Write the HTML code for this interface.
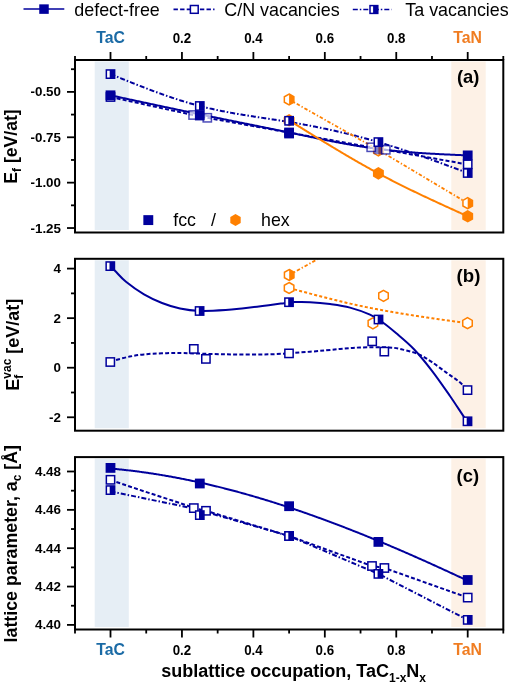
<!DOCTYPE html>
<html><head><meta charset="utf-8"><style>
html,body{margin:0;padding:0;background:#fff;width:511px;height:685px;overflow:hidden;}
body{position:relative;font-family:"Liberation Sans",sans-serif;}
</style></head><body>
<svg width="511" height="685" viewBox="0 0 511 685" style="position:absolute;left:0;top:0;will-change:transform" font-family="Liberation Sans, sans-serif">
<defs>
<clipPath id="ca"><rect x="76" y="61" width="426.3" height="170.5"/></clipPath>
<clipPath id="cb"><rect x="76" y="259.8" width="426.3" height="169.9"/></clipPath>
<clipPath id="cc"><rect x="76" y="458.1" width="426.3" height="170.4"/></clipPath>
</defs>
<rect x="94.7" y="61.5" width="34.1" height="168.5" fill="#e6eef5"/>
<rect x="451.3" y="61.5" width="34.4" height="168.5" fill="#fdf1e6"/>
<rect x="94.7" y="260.3" width="34.1" height="167.9" fill="#e6eef5"/>
<rect x="451.3" y="260.3" width="34.4" height="167.9" fill="#fdf1e6"/>
<rect x="94.7" y="458.6" width="34.1" height="168.4" fill="#e6eef5"/>
<rect x="451.3" y="458.6" width="34.4" height="168.4" fill="#fdf1e6"/>
<polyline points="110.5,97 193.1,115 207.3,117.8 289.1,132.6 371.2,147.3 385.8,149.8 467.7,164.5" fill="none" stroke="#00009c" stroke-width="2" stroke-linejoin="round" stroke-dasharray="4 2.2" clip-path="url(#ca)"/>
<polyline points="110.5,95.3 111.5,95.52 112.5,95.73 113.5,95.95 114.5,96.16 115.5,96.38 116.5,96.6 117.5,96.81 118.5,97.03 119.51,97.24 120.51,97.46 121.51,97.67 122.51,97.89 123.51,98.11 124.51,98.32 125.51,98.54 126.51,98.75 127.51,98.97 128.51,99.18 129.51,99.4 130.51,99.62 131.51,99.83 132.51,100.05 133.51,100.26 134.51,100.48 135.51,100.69 136.51,100.91 137.52,101.12 138.52,101.34 139.52,101.55 140.52,101.77 141.52,101.98 142.52,102.2 143.52,102.41 144.52,102.63 145.52,102.84 146.52,103.06 147.52,103.27 148.52,103.48 149.52,103.7 150.52,103.91 151.52,104.13 152.52,104.34 153.52,104.56 154.52,104.77 155.53,104.98 156.53,105.2 157.53,105.41 158.53,105.62 159.53,105.84 160.53,106.05 161.53,106.26 162.53,106.48 163.53,106.69 164.53,106.9 165.53,107.11 166.53,107.33 167.53,107.54 168.53,107.75 169.53,107.96 170.53,108.17 171.53,108.39 172.53,108.6 173.54,108.81 174.54,109.02 175.54,109.23 176.54,109.44 177.54,109.65 178.54,109.86 179.54,110.07 180.54,110.28 181.54,110.49 182.54,110.7 183.54,110.91 184.54,111.12 185.54,111.33 186.54,111.54 187.54,111.75 188.54,111.96 189.54,112.17 190.54,112.38 191.55,112.59 192.55,112.8 193.55,113 194.55,113.21 195.55,113.42 196.55,113.63 197.55,113.83 198.55,114.04 199.55,114.25 200.55,114.46 201.55,114.66 202.55,114.87 203.55,115.07 204.55,115.28 205.55,115.49 206.55,115.69 207.55,115.9 208.55,116.1 209.56,116.31 210.56,116.51 211.56,116.72 212.56,116.92 213.56,117.13 214.56,117.33 215.56,117.53 216.56,117.74 217.56,117.94 218.56,118.15 219.56,118.35 220.56,118.55 221.56,118.76 222.56,118.96 223.56,119.16 224.56,119.37 225.56,119.57 226.56,119.77 227.57,119.98 228.57,120.18 229.57,120.38 230.57,120.58 231.57,120.79 232.57,120.99 233.57,121.19 234.57,121.39 235.57,121.6 236.57,121.8 237.57,122 238.57,122.2 239.57,122.41 240.57,122.61 241.57,122.81 242.57,123.01 243.57,123.22 244.58,123.42 245.58,123.62 246.58,123.82 247.58,124.02 248.58,124.23 249.58,124.43 250.58,124.63 251.58,124.83 252.58,125.04 253.58,125.24 254.58,125.44 255.58,125.65 256.58,125.85 257.58,126.05 258.58,126.25 259.58,126.46 260.58,126.66 261.58,126.86 262.59,127.07 263.59,127.27 264.59,127.47 265.59,127.68 266.59,127.88 267.59,128.08 268.59,128.29 269.59,128.49 270.59,128.7 271.59,128.9 272.59,129.1 273.59,129.31 274.59,129.51 275.59,129.72 276.59,129.92 277.59,130.13 278.59,130.33 279.59,130.54 280.6,130.74 281.6,130.95 282.6,131.16 283.6,131.36 284.6,131.57 285.6,131.78 286.6,131.98 287.6,132.19 288.6,132.4 289.6,132.6 290.6,132.81 291.6,133.02 292.6,133.23 293.6,133.44 294.6,133.64 295.6,133.85 296.6,134.06 297.6,134.27 298.61,134.48 299.61,134.69 300.61,134.89 301.61,135.1 302.61,135.31 303.61,135.52 304.61,135.73 305.61,135.93 306.61,136.14 307.61,136.35 308.61,136.56 309.61,136.76 310.61,136.97 311.61,137.18 312.61,137.38 313.61,137.59 314.61,137.79 315.61,138 316.62,138.2 317.62,138.41 318.62,138.61 319.62,138.81 320.62,139.02 321.62,139.22 322.62,139.42 323.62,139.62 324.62,139.82 325.62,140.02 326.62,140.22 327.62,140.42 328.62,140.61 329.62,140.81 330.62,141.01 331.62,141.2 332.62,141.4 333.62,141.59 334.63,141.78 335.63,141.97 336.63,142.17 337.63,142.36 338.63,142.54 339.63,142.73 340.63,142.92 341.63,143.11 342.63,143.29 343.63,143.47 344.63,143.66 345.63,143.84 346.63,144.02 347.63,144.2 348.63,144.38 349.63,144.55 350.63,144.73 351.64,144.9 352.64,145.07 353.64,145.25 354.64,145.42 355.64,145.59 356.64,145.75 357.64,145.92 358.64,146.08 359.64,146.25 360.64,146.41 361.64,146.57 362.64,146.73 363.64,146.88 364.64,147.04 365.64,147.19 366.64,147.34 367.64,147.5 368.64,147.64 369.65,147.79 370.65,147.94 371.65,148.08 372.65,148.22 373.65,148.36 374.65,148.5 375.65,148.64 376.65,148.77 377.65,148.9 378.65,149.03 379.65,149.16 380.65,149.29 381.65,149.41 382.65,149.53 383.65,149.66 384.65,149.77 385.65,149.89 386.65,150.01 387.66,150.12 388.66,150.23 389.66,150.34 390.66,150.45 391.66,150.56 392.66,150.66 393.66,150.77 394.66,150.87 395.66,150.97 396.66,151.07 397.66,151.16 398.66,151.26 399.66,151.35 400.66,151.45 401.66,151.54 402.66,151.63 403.66,151.72 404.66,151.8 405.67,151.89 406.67,151.97 407.67,152.05 408.67,152.14 409.67,152.22 410.67,152.3 411.67,152.37 412.67,152.45 413.67,152.52 414.67,152.6 415.67,152.67 416.67,152.74 417.67,152.81 418.67,152.88 419.67,152.95 420.67,153.02 421.67,153.08 422.67,153.15 423.68,153.21 424.68,153.28 425.68,153.34 426.68,153.4 427.68,153.46 428.68,153.52 429.68,153.58 430.68,153.64 431.68,153.7 432.68,153.75 433.68,153.81 434.68,153.86 435.68,153.92 436.68,153.97 437.68,154.02 438.68,154.08 439.68,154.13 440.68,154.18 441.69,154.23 442.69,154.28 443.69,154.33 444.69,154.38 445.69,154.42 446.69,154.47 447.69,154.52 448.69,154.57 449.69,154.61 450.69,154.66 451.69,154.7 452.69,154.75 453.69,154.79 454.69,154.84 455.69,154.88 456.69,154.93 457.69,154.97 458.69,155.01 459.7,155.06 460.7,155.1 461.7,155.14 462.7,155.19 463.7,155.23 464.7,155.27 465.7,155.31 466.7,155.36 467.7,155.4" fill="none" stroke="#00009c" stroke-width="2" stroke-linejoin="round" clip-path="url(#ca)"/>
<polyline points="110.5,74.1 111.5,74.51 112.5,74.91 113.5,75.32 114.5,75.72 115.5,76.13 116.5,76.54 117.5,76.94 118.5,77.35 119.51,77.75 120.51,78.16 121.51,78.56 122.51,78.96 123.51,79.37 124.51,79.77 125.51,80.17 126.51,80.58 127.51,80.98 128.51,81.38 129.51,81.78 130.51,82.18 131.51,82.57 132.51,82.97 133.51,83.37 134.51,83.77 135.51,84.16 136.51,84.56 137.52,84.95 138.52,85.34 139.52,85.73 140.52,86.12 141.52,86.51 142.52,86.9 143.52,87.29 144.52,87.67 145.52,88.06 146.52,88.44 147.52,88.82 148.52,89.2 149.52,89.58 150.52,89.96 151.52,90.33 152.52,90.71 153.52,91.08 154.52,91.45 155.53,91.82 156.53,92.19 157.53,92.56 158.53,92.92 159.53,93.29 160.53,93.65 161.53,94.01 162.53,94.36 163.53,94.72 164.53,95.07 165.53,95.42 166.53,95.77 167.53,96.12 168.53,96.47 169.53,96.81 170.53,97.15 171.53,97.49 172.53,97.83 173.54,98.16 174.54,98.49 175.54,98.82 176.54,99.15 177.54,99.48 178.54,99.8 179.54,100.12 180.54,100.44 181.54,100.75 182.54,101.06 183.54,101.37 184.54,101.68 185.54,101.98 186.54,102.28 187.54,102.58 188.54,102.88 189.54,103.17 190.54,103.46 191.55,103.75 192.55,104.03 193.55,104.31 194.55,104.59 195.55,104.87 196.55,105.14 197.55,105.41 198.55,105.67 199.55,105.93 200.55,106.19 201.55,106.45 202.55,106.7 203.55,106.95 204.55,107.2 205.55,107.44 206.55,107.68 207.55,107.92 208.55,108.15 209.56,108.38 210.56,108.61 211.56,108.84 212.56,109.06 213.56,109.28 214.56,109.5 215.56,109.72 216.56,109.93 217.56,110.14 218.56,110.35 219.56,110.55 220.56,110.76 221.56,110.96 222.56,111.16 223.56,111.35 224.56,111.55 225.56,111.74 226.56,111.93 227.57,112.12 228.57,112.31 229.57,112.49 230.57,112.68 231.57,112.86 232.57,113.04 233.57,113.22 234.57,113.39 235.57,113.57 236.57,113.74 237.57,113.91 238.57,114.08 239.57,114.25 240.57,114.42 241.57,114.59 242.57,114.75 243.57,114.92 244.58,115.08 245.58,115.24 246.58,115.4 247.58,115.56 248.58,115.72 249.58,115.88 250.58,116.04 251.58,116.19 252.58,116.35 253.58,116.51 254.58,116.66 255.58,116.82 256.58,116.97 257.58,117.12 258.58,117.27 259.58,117.43 260.58,117.58 261.58,117.73 262.59,117.88 263.59,118.04 264.59,118.19 265.59,118.34 266.59,118.49 267.59,118.64 268.59,118.79 269.59,118.94 270.59,119.1 271.59,119.25 272.59,119.4 273.59,119.55 274.59,119.71 275.59,119.86 276.59,120.01 277.59,120.17 278.59,120.32 279.59,120.48 280.6,120.64 281.6,120.79 282.6,120.95 283.6,121.11 284.6,121.27 285.6,121.43 286.6,121.59 287.6,121.75 288.6,121.92 289.6,122.08 290.6,122.25 291.6,122.42 292.6,122.58 293.6,122.75 294.6,122.92 295.6,123.1 296.6,123.27 297.6,123.44 298.61,123.62 299.61,123.8 300.61,123.97 301.61,124.15 302.61,124.33 303.61,124.52 304.61,124.7 305.61,124.88 306.61,125.07 307.61,125.25 308.61,125.44 309.61,125.63 310.61,125.82 311.61,126.01 312.61,126.21 313.61,126.4 314.61,126.6 315.61,126.8 316.62,126.99 317.62,127.19 318.62,127.39 319.62,127.6 320.62,127.8 321.62,128.01 322.62,128.21 323.62,128.42 324.62,128.63 325.62,128.84 326.62,129.05 327.62,129.27 328.62,129.48 329.62,129.7 330.62,129.92 331.62,130.13 332.62,130.36 333.62,130.58 334.63,130.8 335.63,131.03 336.63,131.25 337.63,131.48 338.63,131.71 339.63,131.94 340.63,132.17 341.63,132.41 342.63,132.64 343.63,132.88 344.63,133.12 345.63,133.36 346.63,133.6 347.63,133.84 348.63,134.09 349.63,134.33 350.63,134.58 351.64,134.83 352.64,135.08 353.64,135.33 354.64,135.59 355.64,135.84 356.64,136.1 357.64,136.36 358.64,136.62 359.64,136.88 360.64,137.14 361.64,137.41 362.64,137.68 363.64,137.95 364.64,138.22 365.64,138.49 366.64,138.76 367.64,139.04 368.64,139.31 369.65,139.59 370.65,139.87 371.65,140.15 372.65,140.44 373.65,140.72 374.65,141.01 375.65,141.3 376.65,141.59 377.65,141.88 378.65,142.17 379.65,142.47 380.65,142.77 381.65,143.07 382.65,143.37 383.65,143.67 384.65,143.97 385.65,144.28 386.65,144.59 387.66,144.89 388.66,145.2 389.66,145.52 390.66,145.83 391.66,146.15 392.66,146.46 393.66,146.78 394.66,147.1 395.66,147.42 396.66,147.74 397.66,148.07 398.66,148.39 399.66,148.72 400.66,149.04 401.66,149.37 402.66,149.7 403.66,150.04 404.66,150.37 405.67,150.7 406.67,151.04 407.67,151.37 408.67,151.71 409.67,152.05 410.67,152.39 411.67,152.73 412.67,153.07 413.67,153.42 414.67,153.76 415.67,154.11 416.67,154.45 417.67,154.8 418.67,155.15 419.67,155.5 420.67,155.85 421.67,156.2 422.67,156.55 423.68,156.9 424.68,157.26 425.68,157.61 426.68,157.97 427.68,158.32 428.68,158.68 429.68,159.04 430.68,159.39 431.68,159.75 432.68,160.11 433.68,160.47 434.68,160.84 435.68,161.2 436.68,161.56 437.68,161.92 438.68,162.29 439.68,162.65 440.68,163.02 441.69,163.38 442.69,163.75 443.69,164.11 444.69,164.48 445.69,164.85 446.69,165.21 447.69,165.58 448.69,165.95 449.69,166.32 450.69,166.69 451.69,167.06 452.69,167.43 453.69,167.8 454.69,168.17 455.69,168.54 456.69,168.91 457.69,169.28 458.69,169.65 459.7,170.02 460.7,170.4 461.7,170.77 462.7,171.14 463.7,171.51 464.7,171.88 465.7,172.26 466.7,172.63 467.7,173" fill="none" stroke="#00009c" stroke-width="2" stroke-linejoin="round" stroke-dasharray="5 2 1.5 2" clip-path="url(#ca)"/>
<polyline points="289.1,120.3 290.1,120.93 291.11,121.55 292.11,122.18 293.11,122.8 294.12,123.43 295.12,124.05 296.12,124.68 297.13,125.3 298.13,125.92 299.13,126.55 300.14,127.17 301.14,127.8 302.14,128.42 303.15,129.04 304.15,129.67 305.15,130.29 306.16,130.91 307.16,131.53 308.16,132.16 309.17,132.78 310.17,133.4 311.17,134.02 312.18,134.64 313.18,135.26 314.18,135.88 315.19,136.49 316.19,137.11 317.19,137.73 318.2,138.34 319.2,138.96 320.2,139.58 321.21,140.19 322.21,140.8 323.21,141.42 324.22,142.03 325.22,142.64 326.22,143.25 327.23,143.86 328.23,144.47 329.23,145.08 330.24,145.69 331.24,146.29 332.24,146.9 333.25,147.5 334.25,148.11 335.26,148.71 336.26,149.31 337.26,149.91 338.27,150.51 339.27,151.11 340.27,151.71 341.28,152.31 342.28,152.9 343.28,153.5 344.29,154.09 345.29,154.68 346.29,155.27 347.3,155.86 348.3,156.45 349.3,157.04 350.31,157.62 351.31,158.21 352.31,158.79 353.32,159.37 354.32,159.95 355.32,160.53 356.33,161.11 357.33,161.68 358.33,162.26 359.34,162.83 360.34,163.4 361.34,163.97 362.35,164.54 363.35,165.11 364.35,165.67 365.36,166.23 366.36,166.8 367.36,167.36 368.37,167.91 369.37,168.47 370.37,169.03 371.38,169.58 372.38,170.13 373.38,170.68 374.39,171.23 375.39,171.77 376.39,172.32 377.4,172.86 378.4,173.4 379.4,173.94 380.41,174.47 381.41,175.01 382.41,175.54 383.42,176.07 384.42,176.6 385.42,177.13 386.43,177.65 387.43,178.18 388.43,178.7 389.44,179.22 390.44,179.74 391.44,180.26 392.45,180.77 393.45,181.28 394.45,181.8 395.46,182.31 396.46,182.82 397.46,183.32 398.47,183.83 399.47,184.33 400.47,184.84 401.48,185.34 402.48,185.84 403.48,186.34 404.49,186.83 405.49,187.33 406.49,187.82 407.5,188.32 408.5,188.81 409.5,189.3 410.51,189.79 411.51,190.28 412.51,190.76 413.52,191.25 414.52,191.73 415.52,192.22 416.53,192.7 417.53,193.18 418.53,193.66 419.54,194.14 420.54,194.62 421.54,195.09 422.55,195.57 423.55,196.04 424.56,196.52 425.56,196.99 426.56,197.46 427.57,197.93 428.57,198.4 429.57,198.87 430.58,199.34 431.58,199.81 432.58,200.28 433.59,200.74 434.59,201.21 435.59,201.67 436.6,202.14 437.6,202.6 438.6,203.06 439.61,203.53 440.61,203.99 441.61,204.45 442.62,204.91 443.62,205.37 444.62,205.83 445.63,206.29 446.63,206.75 447.63,207.2 448.64,207.66 449.64,208.12 450.64,208.57 451.65,209.03 452.65,209.49 453.65,209.94 454.66,210.4 455.66,210.85 456.66,211.31 457.67,211.76 458.67,212.22 459.67,212.67 460.68,213.13 461.68,213.58 462.68,214.03 463.69,214.49 464.69,214.94 465.69,215.39 466.7,215.85 467.7,216.3" fill="none" stroke="#ff8000" stroke-width="2" stroke-linejoin="round" clip-path="url(#ca)"/>
<polyline points="289.1,99.5 378.4,150 467.7,203.2" fill="none" stroke="#ff8000" stroke-width="1.8" stroke-linejoin="round" stroke-dasharray="3.5 2 1.3 2" clip-path="url(#ca)"/>
<rect x="106.35" y="92.85" width="8.3" height="8.3" fill="#fff" stroke="#00009c" stroke-width="1.5"/>
<rect x="105.6" y="90.4" width="9.8" height="9.8" fill="#00009c"/>
<rect x="106.35" y="69.95" width="8.3" height="8.3" fill="#fff" stroke="#00009c" stroke-width="1.5"/>
<rect x="109.7" y="69.95" width="4.95" height="8.3" fill="#00009c"/>
<g opacity="0.7">
<rect x="188.95" y="110.85" width="8.3" height="8.3" fill="#fff" stroke="#00009c" stroke-width="1.5"/>
<rect x="203.15" y="113.65" width="8.3" height="8.3" fill="#fff" stroke="#00009c" stroke-width="1.5"/>
</g>
<rect x="194.9" y="110.6" width="9.8" height="9.8" fill="#00009c"/>
<rect x="195.65" y="101.85" width="8.3" height="8.3" fill="#fff" stroke="#00009c" stroke-width="1.5"/>
<rect x="199" y="101.85" width="4.95" height="8.3" fill="#00009c"/>
<polygon points="289.1,114 294.56,117.15 294.56,123.45 289.1,126.6 283.64,123.45 283.64,117.15" fill="#ff8000"/>
<rect x="284.95" y="129.35" width="8.3" height="8.3" fill="#fff" stroke="#00009c" stroke-width="1.5"/>
<rect x="284.2" y="127.6" width="9.8" height="9.8" fill="#00009c"/>
<rect x="284.95" y="116.65" width="8.3" height="8.3" fill="#fff" stroke="#00009c" stroke-width="1.5"/>
<rect x="288.3" y="116.65" width="4.95" height="8.3" fill="#00009c"/>
<polygon points="289.1,94 293.86,96.75 293.86,102.25 289.1,105 284.34,102.25 284.34,96.75" fill="#fff" stroke="#ff8000" stroke-width="1.5" stroke-linejoin="miter"/>
<polygon points="289.1,94 293.86,96.75 293.86,102.25 289.1,105" fill="#ff8000"/>
<polygon points="378.4,167.1 383.86,170.25 383.86,176.55 378.4,179.7 372.94,176.55 372.94,170.25" fill="#ff8000"/>
<polygon points="378.4,144.8 383.16,147.55 383.16,153.05 378.4,155.8 373.64,153.05 373.64,147.55" fill="#fff" stroke="#ff8000" stroke-width="1.5" stroke-linejoin="miter"/>
<polygon points="378.4,144.8 383.16,147.55 383.16,153.05 378.4,155.8" fill="#ff8000"/>
<g opacity="0.5">
<rect x="373.5" y="144.4" width="9.8" height="9.8" fill="#00009c"/>
</g>
<g opacity="0.7">
<rect x="367.05" y="143.15" width="8.3" height="8.3" fill="#fff" stroke="#00009c" stroke-width="1.5"/>
<rect x="381.65" y="145.65" width="8.3" height="8.3" fill="#fff" stroke="#00009c" stroke-width="1.5"/>
</g>
<rect x="374.25" y="137.95" width="8.3" height="8.3" fill="#fff" stroke="#00009c" stroke-width="1.5"/>
<rect x="377.6" y="137.95" width="4.95" height="8.3" fill="#00009c"/>
<rect x="463.55" y="168.85" width="8.3" height="8.3" fill="#fff" stroke="#00009c" stroke-width="1.5"/>
<rect x="466.9" y="168.85" width="4.95" height="8.3" fill="#00009c"/>
<rect x="463.55" y="160.15" width="8.3" height="8.3" fill="#fff" stroke="#00009c" stroke-width="1.5"/>
<rect x="462.8" y="150.5" width="9.8" height="9.8" fill="#00009c"/>
<polygon points="467.7,210 473.16,213.15 473.16,219.45 467.7,222.6 462.24,219.45 462.24,213.15" fill="#ff8000"/>
<polygon points="467.7,197.7 472.46,200.45 472.46,205.95 467.7,208.7 462.94,205.95 462.94,200.45" fill="#fff" stroke="#ff8000" stroke-width="1.5" stroke-linejoin="miter"/>
<polygon points="467.7,197.7 472.46,200.45 472.46,205.95 467.7,208.7" fill="#ff8000"/>
<rect x="143.35" y="215.15" width="9.9" height="9.9" fill="#00009c"/>
<text x="173.2" y="225.7" font-size="17.8" font-weight="normal" fill="#000" text-anchor="start">fcc</text>
<text x="211" y="225.7" font-size="17.8" font-weight="normal" fill="#000" text-anchor="start">/</text>
<polygon points="235.5,214.1 240.7,217.1 240.7,223.1 235.5,226.1 230.3,223.1 230.3,217.1" fill="#ff8000"/>
<text x="261" y="225.7" font-size="17.8" font-weight="normal" fill="#000" text-anchor="start">hex</text>
<path d="M110.3,362 C111.93,361.4 111.98,361.1 115.2,360.2 C118.42,359.3 124.8,357.57 129.6,356.6 C134.4,355.63 138.6,354.95 144,354.4 C149.4,353.85 155.4,353.52 162,353.3 C168.6,353.08 173.1,352.93 183.6,353.1 C194.1,353.27 210.6,354.1 225,354.3 C239.4,354.5 255.83,354.73 270,354.3 C284.17,353.87 298.33,352.58 310,351.7 C321.67,350.82 331.67,349.7 340,349 C348.33,348.3 351.83,347.77 360,347.5 C368.17,347.23 381.5,346.97 389,347.4 C396.5,347.83 399.93,348.9 405,350.1 C410.07,351.3 414.9,352.58 419.4,354.6 C423.9,356.62 427.5,359.2 432,362.2 C436.5,365.2 441.9,369.37 446.4,372.6 C450.9,375.83 455.48,378.68 459,381.6 C462.52,384.52 464.67,387.27 467.5,390.1" fill="none" stroke="#00009c" stroke-width="2" stroke-linejoin="round" stroke-dasharray="4 2.2" clip-path="url(#cb)"/>
<path d="M110.3,266.1 C111.93,267.73 112.58,268.38 115.2,271 C117.82,273.62 121.2,277.9 126,281.8 C130.8,285.7 138,290.87 144,294.4 C150,297.93 156,300.65 162,303 C168,305.35 173.73,307.18 180,308.5 C186.27,309.82 192,310.63 199.6,310.9 C207.2,311.17 218.2,310.55 225.6,310.1 C233,309.65 237.87,308.88 244,308.2 C250.13,307.52 256.27,306.77 262.4,306 C268.53,305.23 275.37,304.25 280.8,303.6 C286.23,302.95 290.13,302.33 295,302.1 C299.87,301.87 304.17,301.87 310,302.2 C315.83,302.53 323.33,303.2 330,304.1 C336.67,305 343.33,305.83 350,307.6 C356.67,309.37 364.58,312.27 370,314.7 C375.42,317.13 378.17,319.15 382.5,322.2 C386.83,325.25 390.75,328.5 396,333 C401.25,337.5 408,342.9 414,349.2 C420,355.5 426,363 432,370.8 C438,378.6 444.6,388.2 450,396 C455.4,403.8 461.48,413.38 464.4,417.6 C467.32,421.82 466.47,420.07 467.5,421.3" fill="none" stroke="#00009c" stroke-width="2" stroke-linejoin="round" clip-path="url(#cb)"/>
<polyline points="289.1,288 290.1,288.27 291.1,288.54 292.11,288.81 293.11,289.08 294.11,289.35 295.11,289.62 296.12,289.89 297.12,290.16 298.12,290.43 299.12,290.7 300.12,290.97 301.13,291.24 302.13,291.5 303.13,291.77 304.13,292.04 305.14,292.31 306.14,292.57 307.14,292.84 308.14,293.11 309.14,293.37 310.15,293.64 311.15,293.9 312.15,294.17 313.15,294.43 314.16,294.7 315.16,294.96 316.16,295.22 317.16,295.48 318.17,295.74 319.17,296.01 320.17,296.26 321.17,296.52 322.17,296.78 323.18,297.04 324.18,297.3 325.18,297.55 326.18,297.81 327.19,298.06 328.19,298.32 329.19,298.57 330.19,298.82 331.19,299.07 332.2,299.32 333.2,299.57 334.2,299.82 335.2,300.07 336.21,300.31 337.21,300.56 338.21,300.8 339.21,301.05 340.21,301.29 341.22,301.53 342.22,301.77 343.22,302.01 344.22,302.24 345.23,302.48 346.23,302.71 347.23,302.95 348.23,303.18 349.23,303.41 350.24,303.64 351.24,303.87 352.24,304.09 353.24,304.32 354.25,304.54 355.25,304.77 356.25,304.99 357.25,305.21 358.26,305.42 359.26,305.64 360.26,305.86 361.26,306.07 362.26,306.28 363.27,306.49 364.27,306.7 365.27,306.91 366.27,307.11 367.28,307.32 368.28,307.52 369.28,307.72 370.28,307.92 371.28,308.12 372.29,308.32 373.29,308.51 374.29,308.71 375.29,308.9 376.3,309.09 377.3,309.28 378.3,309.47 379.3,309.66 380.3,309.85 381.31,310.03 382.31,310.22 383.31,310.4 384.31,310.58 385.32,310.77 386.32,310.95 387.32,311.12 388.32,311.3 389.32,311.48 390.33,311.65 391.33,311.83 392.33,312 393.33,312.18 394.34,312.35 395.34,312.52 396.34,312.69 397.34,312.86 398.34,313.02 399.35,313.19 400.35,313.36 401.35,313.52 402.35,313.69 403.36,313.85 404.36,314.01 405.36,314.18 406.36,314.34 407.37,314.5 408.37,314.66 409.37,314.82 410.37,314.98 411.37,315.13 412.38,315.29 413.38,315.45 414.38,315.6 415.38,315.76 416.39,315.91 417.39,316.06 418.39,316.22 419.39,316.37 420.39,316.52 421.4,316.67 422.4,316.82 423.4,316.97 424.4,317.12 425.41,317.27 426.41,317.42 427.41,317.57 428.41,317.72 429.41,317.86 430.42,318.01 431.42,318.15 432.42,318.3 433.42,318.44 434.43,318.59 435.43,318.73 436.43,318.88 437.43,319.02 438.43,319.16 439.44,319.31 440.44,319.45 441.44,319.59 442.44,319.73 443.45,319.87 444.45,320.01 445.45,320.15 446.45,320.29 447.46,320.43 448.46,320.57 449.46,320.71 450.46,320.85 451.46,320.99 452.47,321.13 453.47,321.27 454.47,321.41 455.47,321.55 456.48,321.69 457.48,321.82 458.48,321.96 459.48,322.1 460.48,322.24 461.49,322.37 462.49,322.51 463.49,322.65 464.49,322.79 465.5,322.93 466.5,323.06 467.5,323.2" fill="none" stroke="#ff8000" stroke-width="2" stroke-linejoin="round" stroke-dasharray="3 2.2" clip-path="url(#cb)"/>
<polyline points="289.2,275 321.5,257" fill="none" stroke="#ff8000" stroke-width="1.8" stroke-linejoin="round" stroke-dasharray="3.5 2 1.3 2" clip-path="url(#cb)"/>
<rect x="106.15" y="261.95" width="8.3" height="8.3" fill="#fff" stroke="#00009c" stroke-width="1.5"/>
<rect x="109.5" y="261.95" width="4.95" height="8.3" fill="#00009c"/>
<rect x="106.15" y="357.85" width="8.3" height="8.3" fill="#fff" stroke="#00009c" stroke-width="1.5"/>
<rect x="195.45" y="306.85" width="8.3" height="8.3" fill="#fff" stroke="#00009c" stroke-width="1.5"/>
<rect x="198.8" y="306.85" width="4.95" height="8.3" fill="#00009c"/>
<rect x="189.65" y="344.75" width="8.3" height="8.3" fill="#fff" stroke="#00009c" stroke-width="1.5"/>
<rect x="201.75" y="354.75" width="8.3" height="8.3" fill="#fff" stroke="#00009c" stroke-width="1.5"/>
<polygon points="289.2,269.5 293.96,272.25 293.96,277.75 289.2,280.5 284.44,277.75 284.44,272.25" fill="#fff" stroke="#ff8000" stroke-width="1.5" stroke-linejoin="miter"/>
<polygon points="289.2,269.5 293.96,272.25 293.96,277.75 289.2,280.5" fill="#ff8000"/>
<polygon points="289.1,282.5 293.86,285.25 293.86,290.75 289.1,293.5 284.34,290.75 284.34,285.25" fill="#fff" stroke="#ff8000" stroke-width="1.5" stroke-linejoin="miter"/>
<rect x="284.85" y="298.05" width="8.3" height="8.3" fill="#fff" stroke="#00009c" stroke-width="1.5"/>
<rect x="288.2" y="298.05" width="4.95" height="8.3" fill="#00009c"/>
<rect x="284.85" y="349.25" width="8.3" height="8.3" fill="#fff" stroke="#00009c" stroke-width="1.5"/>
<polygon points="383.5,290.3 388.26,293.05 388.26,298.55 383.5,301.3 378.74,298.55 378.74,293.05" fill="#fff" stroke="#ff8000" stroke-width="1.5" stroke-linejoin="miter"/>
<polygon points="372.9,317.8 377.66,320.55 377.66,326.05 372.9,328.8 368.14,326.05 368.14,320.55" fill="#fff" stroke="#ff8000" stroke-width="1.5" stroke-linejoin="miter"/>
<rect x="374.35" y="315.35" width="8.3" height="8.3" fill="#fff" stroke="#00009c" stroke-width="1.5"/>
<rect x="377.7" y="315.35" width="4.95" height="8.3" fill="#00009c"/>
<rect x="368.05" y="337.15" width="8.3" height="8.3" fill="#fff" stroke="#00009c" stroke-width="1.5"/>
<rect x="380.15" y="347.45" width="8.3" height="8.3" fill="#fff" stroke="#00009c" stroke-width="1.5"/>
<polygon points="467.5,317.7 472.26,320.45 472.26,325.95 467.5,328.7 462.74,325.95 462.74,320.45" fill="#fff" stroke="#ff8000" stroke-width="1.5" stroke-linejoin="miter"/>
<rect x="463.35" y="385.95" width="8.3" height="8.3" fill="#fff" stroke="#00009c" stroke-width="1.5"/>
<rect x="463.35" y="417.15" width="8.3" height="8.3" fill="#fff" stroke="#00009c" stroke-width="1.5"/>
<rect x="466.7" y="417.15" width="4.95" height="8.3" fill="#00009c"/>
<polyline points="110.5,480 145.2,491.7 180.4,503.2 194,508 205.9,510.8 289.1,536 372,566 384.4,568 467.7,597.6" fill="none" stroke="#00009c" stroke-width="2" stroke-linejoin="round" stroke-dasharray="4 2.2" clip-path="url(#cc)"/>
<polyline points="110.5,491.4 189.3,507.6 211.7,513.7 289.1,536 378.4,573.9 467.7,619.9" fill="none" stroke="#00009c" stroke-width="2" stroke-linejoin="round" stroke-dasharray="5 2 1.5 2" clip-path="url(#cc)"/>
<polyline points="110.5,468.57 111.5,468.65 112.5,468.74 113.5,468.83 114.5,468.92 115.5,469.01 116.5,469.11 117.5,469.2 118.5,469.3 119.51,469.4 120.51,469.5 121.51,469.61 122.51,469.71 123.51,469.82 124.51,469.92 125.51,470.03 126.51,470.15 127.51,470.26 128.51,470.37 129.51,470.49 130.51,470.61 131.51,470.73 132.51,470.85 133.51,470.97 134.51,471.09 135.51,471.22 136.51,471.35 137.52,471.47 138.52,471.6 139.52,471.74 140.52,471.87 141.52,472.01 142.52,472.14 143.52,472.28 144.52,472.42 145.52,472.56 146.52,472.71 147.52,472.85 148.52,473 149.52,473.14 150.52,473.29 151.52,473.44 152.52,473.6 153.52,473.75 154.52,473.91 155.53,474.06 156.53,474.22 157.53,474.38 158.53,474.54 159.53,474.71 160.53,474.87 161.53,475.04 162.53,475.2 163.53,475.37 164.53,475.54 165.53,475.72 166.53,475.89 167.53,476.07 168.53,476.24 169.53,476.42 170.53,476.6 171.53,476.78 172.53,476.96 173.54,477.15 174.54,477.33 175.54,477.52 176.54,477.71 177.54,477.9 178.54,478.09 179.54,478.28 180.54,478.48 181.54,478.67 182.54,478.87 183.54,479.07 184.54,479.27 185.54,479.47 186.54,479.67 187.54,479.88 188.54,480.08 189.54,480.29 190.54,480.5 191.55,480.71 192.55,480.92 193.55,481.13 194.55,481.35 195.55,481.56 196.55,481.78 197.55,482 198.55,482.22 199.55,482.44 200.55,482.66 201.55,482.88 202.55,483.11 203.55,483.34 204.55,483.56 205.55,483.79 206.55,484.03 207.55,484.26 208.55,484.49 209.56,484.73 210.56,484.96 211.56,485.2 212.56,485.44 213.56,485.68 214.56,485.92 215.56,486.16 216.56,486.41 217.56,486.65 218.56,486.9 219.56,487.15 220.56,487.4 221.56,487.65 222.56,487.9 223.56,488.15 224.56,488.41 225.56,488.66 226.56,488.92 227.57,489.18 228.57,489.44 229.57,489.7 230.57,489.96 231.57,490.23 232.57,490.49 233.57,490.76 234.57,491.03 235.57,491.3 236.57,491.57 237.57,491.84 238.57,492.11 239.57,492.38 240.57,492.66 241.57,492.94 242.57,493.21 243.57,493.49 244.58,493.77 245.58,494.05 246.58,494.34 247.58,494.62 248.58,494.9 249.58,495.19 250.58,495.48 251.58,495.77 252.58,496.06 253.58,496.35 254.58,496.64 255.58,496.93 256.58,497.23 257.58,497.52 258.58,497.82 259.58,498.12 260.58,498.42 261.58,498.72 262.59,499.02 263.59,499.32 264.59,499.63 265.59,499.93 266.59,500.24 267.59,500.55 268.59,500.85 269.59,501.16 270.59,501.48 271.59,501.79 272.59,502.1 273.59,502.42 274.59,502.73 275.59,503.05 276.59,503.37 277.59,503.68 278.59,504 279.59,504.33 280.6,504.65 281.6,504.97 282.6,505.3 283.6,505.62 284.6,505.95 285.6,506.28 286.6,506.6 287.6,506.93 288.6,507.27 289.6,507.6 290.6,507.93 291.6,508.27 292.6,508.6 293.6,508.94 294.6,509.27 295.6,509.61 296.6,509.95 297.6,510.29 298.61,510.64 299.61,510.98 300.61,511.32 301.61,511.67 302.61,512.01 303.61,512.36 304.61,512.71 305.61,513.06 306.61,513.41 307.61,513.76 308.61,514.11 309.61,514.46 310.61,514.82 311.61,515.17 312.61,515.53 313.61,515.89 314.61,516.24 315.61,516.6 316.62,516.96 317.62,517.32 318.62,517.69 319.62,518.05 320.62,518.41 321.62,518.78 322.62,519.14 323.62,519.51 324.62,519.88 325.62,520.25 326.62,520.62 327.62,520.99 328.62,521.36 329.62,521.73 330.62,522.11 331.62,522.48 332.62,522.86 333.62,523.23 334.63,523.61 335.63,523.99 336.63,524.37 337.63,524.75 338.63,525.13 339.63,525.51 340.63,525.89 341.63,526.28 342.63,526.66 343.63,527.05 344.63,527.43 345.63,527.82 346.63,528.21 347.63,528.6 348.63,528.99 349.63,529.38 350.63,529.77 351.64,530.16 352.64,530.56 353.64,530.95 354.64,531.35 355.64,531.74 356.64,532.14 357.64,532.54 358.64,532.94 359.64,533.34 360.64,533.74 361.64,534.14 362.64,534.54 363.64,534.94 364.64,535.35 365.64,535.75 366.64,536.16 367.64,536.56 368.64,536.97 369.65,537.38 370.65,537.79 371.65,538.2 372.65,538.61 373.65,539.02 374.65,539.43 375.65,539.84 376.65,540.26 377.65,540.67 378.65,541.08 379.65,541.5 380.65,541.92 381.65,542.33 382.65,542.75 383.65,543.17 384.65,543.59 385.65,544.01 386.65,544.43 387.66,544.85 388.66,545.28 389.66,545.7 390.66,546.12 391.66,546.55 392.66,546.97 393.66,547.4 394.66,547.83 395.66,548.26 396.66,548.68 397.66,549.11 398.66,549.54 399.66,549.97 400.66,550.41 401.66,550.84 402.66,551.27 403.66,551.7 404.66,552.14 405.67,552.57 406.67,553.01 407.67,553.44 408.67,553.88 409.67,554.32 410.67,554.76 411.67,555.2 412.67,555.64 413.67,556.08 414.67,556.52 415.67,556.96 416.67,557.4 417.67,557.84 418.67,558.29 419.67,558.73 420.67,559.18 421.67,559.62 422.67,560.07 423.68,560.51 424.68,560.96 425.68,561.41 426.68,561.86 427.68,562.31 428.68,562.76 429.68,563.21 430.68,563.66 431.68,564.11 432.68,564.56 433.68,565.02 434.68,565.47 435.68,565.92 436.68,566.38 437.68,566.83 438.68,567.29 439.68,567.75 440.68,568.2 441.69,568.66 442.69,569.12 443.69,569.58 444.69,570.04 445.69,570.5 446.69,570.96 447.69,571.42 448.69,571.88 449.69,572.34 450.69,572.8 451.69,573.27 452.69,573.73 453.69,574.19 454.69,574.66 455.69,575.12 456.69,575.59 457.69,576.05 458.69,576.52 459.7,576.99 460.7,577.46 461.7,577.92 462.7,578.39 463.7,578.86 464.7,579.33 465.7,579.8 466.7,580.27 467.7,580.74" fill="none" stroke="#00009c" stroke-width="2" stroke-linejoin="round" clip-path="url(#cc)"/>
<rect x="105.6" y="463" width="9.8" height="9.8" fill="#00009c"/>
<rect x="106.35" y="475.65" width="8.3" height="8.3" fill="#fff" stroke="#00009c" stroke-width="1.5"/>
<rect x="106.35" y="485.95" width="8.3" height="8.3" fill="#fff" stroke="#00009c" stroke-width="1.5"/>
<rect x="109.7" y="485.95" width="4.95" height="8.3" fill="#00009c"/>
<rect x="194.9" y="478.6" width="9.8" height="9.8" fill="#00009c"/>
<rect x="189.65" y="503.95" width="8.3" height="8.3" fill="#fff" stroke="#00009c" stroke-width="1.5"/>
<rect x="201.85" y="506.65" width="8.3" height="8.3" fill="#fff" stroke="#00009c" stroke-width="1.5"/>
<rect x="195.65" y="510.95" width="8.3" height="8.3" fill="#fff" stroke="#00009c" stroke-width="1.5"/>
<rect x="199" y="510.95" width="4.95" height="8.3" fill="#00009c"/>
<rect x="284.2" y="501.3" width="9.8" height="9.8" fill="#00009c"/>
<rect x="284.95" y="531.85" width="8.3" height="8.3" fill="#fff" stroke="#00009c" stroke-width="1.5"/>
<rect x="284.95" y="531.85" width="8.3" height="8.3" fill="#fff" stroke="#00009c" stroke-width="1.5"/>
<rect x="288.3" y="531.85" width="4.95" height="8.3" fill="#00009c"/>
<rect x="373.5" y="537" width="9.8" height="9.8" fill="#00009c"/>
<rect x="367.85" y="561.85" width="8.3" height="8.3" fill="#fff" stroke="#00009c" stroke-width="1.5"/>
<rect x="380.25" y="563.85" width="8.3" height="8.3" fill="#fff" stroke="#00009c" stroke-width="1.5"/>
<rect x="374.25" y="569.75" width="8.3" height="8.3" fill="#fff" stroke="#00009c" stroke-width="1.5"/>
<rect x="377.6" y="569.75" width="4.95" height="8.3" fill="#00009c"/>
<rect x="462.8" y="575.1" width="9.8" height="9.8" fill="#00009c"/>
<rect x="463.55" y="593.45" width="8.3" height="8.3" fill="#fff" stroke="#00009c" stroke-width="1.5"/>
<rect x="463.55" y="615.75" width="8.3" height="8.3" fill="#fff" stroke="#00009c" stroke-width="1.5"/>
<rect x="466.9" y="615.75" width="4.95" height="8.3" fill="#00009c"/>
<rect x="75" y="60" width="428.3" height="172.5" fill="none" stroke="#000" stroke-width="2"/>
<rect x="75" y="258.8" width="428.3" height="171.9" fill="none" stroke="#000" stroke-width="2"/>
<rect x="75" y="457.1" width="428.3" height="172.4" fill="none" stroke="#000" stroke-width="2"/>
<line x1="75" y1="60" x2="75" y2="56" stroke="#000" stroke-width="1.8" stroke-linecap="butt"/>
<line x1="75" y1="629.5" x2="75" y2="633.5" stroke="#000" stroke-width="1.8" stroke-linecap="butt"/>
<line x1="110.5" y1="60" x2="110.5" y2="52" stroke="#000" stroke-width="1.8" stroke-linecap="butt"/>
<line x1="110.5" y1="629.5" x2="110.5" y2="637.5" stroke="#000" stroke-width="1.8" stroke-linecap="butt"/>
<line x1="146.22" y1="60" x2="146.22" y2="56" stroke="#000" stroke-width="1.8" stroke-linecap="butt"/>
<line x1="146.22" y1="629.5" x2="146.22" y2="633.5" stroke="#000" stroke-width="1.8" stroke-linecap="butt"/>
<line x1="181.94" y1="60" x2="181.94" y2="52" stroke="#000" stroke-width="1.8" stroke-linecap="butt"/>
<line x1="181.94" y1="629.5" x2="181.94" y2="637.5" stroke="#000" stroke-width="1.8" stroke-linecap="butt"/>
<line x1="217.66" y1="60" x2="217.66" y2="56" stroke="#000" stroke-width="1.8" stroke-linecap="butt"/>
<line x1="217.66" y1="629.5" x2="217.66" y2="633.5" stroke="#000" stroke-width="1.8" stroke-linecap="butt"/>
<line x1="253.38" y1="60" x2="253.38" y2="52" stroke="#000" stroke-width="1.8" stroke-linecap="butt"/>
<line x1="253.38" y1="629.5" x2="253.38" y2="637.5" stroke="#000" stroke-width="1.8" stroke-linecap="butt"/>
<line x1="289.1" y1="60" x2="289.1" y2="56" stroke="#000" stroke-width="1.8" stroke-linecap="butt"/>
<line x1="289.1" y1="629.5" x2="289.1" y2="633.5" stroke="#000" stroke-width="1.8" stroke-linecap="butt"/>
<line x1="324.82" y1="60" x2="324.82" y2="52" stroke="#000" stroke-width="1.8" stroke-linecap="butt"/>
<line x1="324.82" y1="629.5" x2="324.82" y2="637.5" stroke="#000" stroke-width="1.8" stroke-linecap="butt"/>
<line x1="360.54" y1="60" x2="360.54" y2="56" stroke="#000" stroke-width="1.8" stroke-linecap="butt"/>
<line x1="360.54" y1="629.5" x2="360.54" y2="633.5" stroke="#000" stroke-width="1.8" stroke-linecap="butt"/>
<line x1="396.26" y1="60" x2="396.26" y2="52" stroke="#000" stroke-width="1.8" stroke-linecap="butt"/>
<line x1="396.26" y1="629.5" x2="396.26" y2="637.5" stroke="#000" stroke-width="1.8" stroke-linecap="butt"/>
<line x1="431.98" y1="60" x2="431.98" y2="56" stroke="#000" stroke-width="1.8" stroke-linecap="butt"/>
<line x1="431.98" y1="629.5" x2="431.98" y2="633.5" stroke="#000" stroke-width="1.8" stroke-linecap="butt"/>
<line x1="467.7" y1="60" x2="467.7" y2="52" stroke="#000" stroke-width="1.8" stroke-linecap="butt"/>
<line x1="467.7" y1="629.5" x2="467.7" y2="637.5" stroke="#000" stroke-width="1.8" stroke-linecap="butt"/>
<line x1="503.3" y1="60" x2="503.3" y2="56" stroke="#000" stroke-width="1.8" stroke-linecap="butt"/>
<line x1="503.3" y1="629.5" x2="503.3" y2="633.5" stroke="#000" stroke-width="1.8" stroke-linecap="butt"/>
<line x1="75" y1="91.9" x2="67" y2="91.9" stroke="#000" stroke-width="1.8" stroke-linecap="butt"/>
<line x1="75" y1="137.28" x2="67" y2="137.28" stroke="#000" stroke-width="1.8" stroke-linecap="butt"/>
<line x1="75" y1="182.65" x2="67" y2="182.65" stroke="#000" stroke-width="1.8" stroke-linecap="butt"/>
<line x1="75" y1="228.03" x2="67" y2="228.03" stroke="#000" stroke-width="1.8" stroke-linecap="butt"/>
<line x1="75" y1="69.21" x2="71" y2="69.21" stroke="#000" stroke-width="1.8" stroke-linecap="butt"/>
<line x1="75" y1="114.59" x2="71" y2="114.59" stroke="#000" stroke-width="1.8" stroke-linecap="butt"/>
<line x1="75" y1="159.96" x2="71" y2="159.96" stroke="#000" stroke-width="1.8" stroke-linecap="butt"/>
<line x1="75" y1="205.34" x2="71" y2="205.34" stroke="#000" stroke-width="1.8" stroke-linecap="butt"/>
<line x1="75" y1="268.6" x2="67" y2="268.6" stroke="#000" stroke-width="1.8" stroke-linecap="butt"/>
<line x1="75" y1="318.16" x2="67" y2="318.16" stroke="#000" stroke-width="1.8" stroke-linecap="butt"/>
<line x1="75" y1="367.72" x2="67" y2="367.72" stroke="#000" stroke-width="1.8" stroke-linecap="butt"/>
<line x1="75" y1="417.28" x2="67" y2="417.28" stroke="#000" stroke-width="1.8" stroke-linecap="butt"/>
<line x1="75" y1="293.38" x2="71" y2="293.38" stroke="#000" stroke-width="1.8" stroke-linecap="butt"/>
<line x1="75" y1="342.94" x2="71" y2="342.94" stroke="#000" stroke-width="1.8" stroke-linecap="butt"/>
<line x1="75" y1="392.5" x2="71" y2="392.5" stroke="#000" stroke-width="1.8" stroke-linecap="butt"/>
<line x1="75" y1="471.5" x2="67" y2="471.5" stroke="#000" stroke-width="1.8" stroke-linecap="butt"/>
<line x1="75" y1="509.85" x2="67" y2="509.85" stroke="#000" stroke-width="1.8" stroke-linecap="butt"/>
<line x1="75" y1="548.2" x2="67" y2="548.2" stroke="#000" stroke-width="1.8" stroke-linecap="butt"/>
<line x1="75" y1="586.55" x2="67" y2="586.55" stroke="#000" stroke-width="1.8" stroke-linecap="butt"/>
<line x1="75" y1="624.9" x2="67" y2="624.9" stroke="#000" stroke-width="1.8" stroke-linecap="butt"/>
<line x1="75" y1="490.68" x2="71" y2="490.68" stroke="#000" stroke-width="1.8" stroke-linecap="butt"/>
<line x1="75" y1="529.03" x2="71" y2="529.03" stroke="#000" stroke-width="1.8" stroke-linecap="butt"/>
<line x1="75" y1="567.38" x2="71" y2="567.38" stroke="#000" stroke-width="1.8" stroke-linecap="butt"/>
<line x1="75" y1="605.73" x2="71" y2="605.73" stroke="#000" stroke-width="1.8" stroke-linecap="butt"/>
<text x="61" y="96.4" font-size="13.4" font-weight="bold" fill="#000" text-anchor="end">-0.50</text>
<text x="61" y="141.78" font-size="13.4" font-weight="bold" fill="#000" text-anchor="end">-0.75</text>
<text x="61" y="187.15" font-size="13.4" font-weight="bold" fill="#000" text-anchor="end">-1.00</text>
<text x="61" y="232.53" font-size="13.4" font-weight="bold" fill="#000" text-anchor="end">-1.25</text>
<text x="61" y="273.1" font-size="13.4" font-weight="bold" fill="#000" text-anchor="end">4</text>
<text x="61" y="322.66" font-size="13.4" font-weight="bold" fill="#000" text-anchor="end">2</text>
<text x="61" y="372.22" font-size="13.4" font-weight="bold" fill="#000" text-anchor="end">0</text>
<text x="61" y="421.78" font-size="13.4" font-weight="bold" fill="#000" text-anchor="end">-2</text>
<text x="61" y="476" font-size="13.4" font-weight="bold" fill="#000" text-anchor="end">4.48</text>
<text x="61" y="514.35" font-size="13.4" font-weight="bold" fill="#000" text-anchor="end">4.46</text>
<text x="61" y="552.7" font-size="13.4" font-weight="bold" fill="#000" text-anchor="end">4.44</text>
<text x="61" y="591.05" font-size="13.4" font-weight="bold" fill="#000" text-anchor="end">4.42</text>
<text x="61" y="629.4" font-size="13.4" font-weight="bold" fill="#000" text-anchor="end">4.40</text>
<text transform="translate(110.5,42.6) scale(1,1.1)" font-size="15.8" font-weight="bold" fill="#1a6aa5" text-anchor="middle">TaC</text>
<text transform="translate(467.7,42.6) scale(1,1.1)" font-size="15.8" font-weight="bold" fill="#f07d22" text-anchor="middle">TaN</text>
<text transform="translate(181.94,42.6) scale(1,1.06)" font-size="13.3" font-weight="bold" fill="#000" text-anchor="middle">0.2</text>
<text transform="translate(253.38,42.6) scale(1,1.06)" font-size="13.3" font-weight="bold" fill="#000" text-anchor="middle">0.4</text>
<text transform="translate(324.82,42.6) scale(1,1.06)" font-size="13.3" font-weight="bold" fill="#000" text-anchor="middle">0.6</text>
<text transform="translate(396.26,42.6) scale(1,1.06)" font-size="13.3" font-weight="bold" fill="#000" text-anchor="middle">0.8</text>
<text transform="translate(110.5,654.8) scale(1,1.1)" font-size="15.8" font-weight="bold" fill="#1a6aa5" text-anchor="middle">TaC</text>
<text transform="translate(467.7,654.8) scale(1,1.1)" font-size="15.8" font-weight="bold" fill="#f07d22" text-anchor="middle">TaN</text>
<text transform="translate(181.94,654.8) scale(1,1.06)" font-size="13.3" font-weight="bold" fill="#000" text-anchor="middle">0.2</text>
<text transform="translate(253.38,654.8) scale(1,1.06)" font-size="13.3" font-weight="bold" fill="#000" text-anchor="middle">0.4</text>
<text transform="translate(324.82,654.8) scale(1,1.06)" font-size="13.3" font-weight="bold" fill="#000" text-anchor="middle">0.6</text>
<text transform="translate(396.26,654.8) scale(1,1.06)" font-size="13.3" font-weight="bold" fill="#000" text-anchor="middle">0.8</text>
<text x="457" y="83.2" font-size="18.4" font-weight="bold" fill="#000" text-anchor="start">(a)</text>
<text x="456.6" y="282.4" font-size="18.6" font-weight="bold" fill="#000" text-anchor="start">(b)</text>
<text x="456.6" y="482" font-size="18.4" font-weight="bold" fill="#000" text-anchor="start">(c)</text>
<text transform="translate(16.9,146.5) rotate(-90)" font-size="17.6" font-weight="bold" text-anchor="middle" fill="#000">E<tspan font-size="12" dy="4">f</tspan><tspan dy="-4"> [eV/at]</tspan></text>
<text transform="translate(18.7,344.7) rotate(-90)" font-size="18" font-weight="bold" text-anchor="middle" fill="#000">E<tspan font-size="12" dy="4">f</tspan><tspan font-size="12" dx="-4" dy="-12">vac</tspan><tspan dy="8"> [eV/at]</tspan></text>
<text transform="translate(16.7,543.7) rotate(-90)" font-size="17.8" font-weight="bold" text-anchor="middle" fill="#000">lattice parameter, a<tspan font-size="12" dy="4">c</tspan><tspan dy="-4"> [Å]</tspan></text>
<text x="161.3" y="676.9" font-size="18" font-weight="bold" fill="#000">sublattice occupation, TaC<tspan font-size="12" dy="5">1-x</tspan><tspan dy="-5">N</tspan><tspan font-size="12" dy="5">x</tspan></text>
<line x1="23.5" y1="9" x2="64.3" y2="9" stroke="#00009c" stroke-width="1.6" stroke-linecap="butt"/>
<rect x="39.25" y="4.35" width="9.5" height="9.5" fill="#00009c"/>
<text x="74.3" y="15.9" font-size="17.9" font-weight="normal" fill="#000" text-anchor="start">defect-free</text>
<line x1="173.5" y1="9.4" x2="214.5" y2="9.4" stroke="#00009c" stroke-width="1.6" stroke-dasharray="4.4 2.2"/>
<rect x="190.4" y="5.5" width="7.8" height="7.8" fill="#fff" stroke="#00009c" stroke-width="1.5"/>
<text x="224.3" y="16" font-size="17.9" font-weight="normal" fill="#000" text-anchor="start">C/N vacancies</text>
<line x1="352.8" y1="9.5" x2="391.6" y2="9.5" stroke="#00009c" stroke-width="1.6" stroke-dasharray="5 2 1.5 2"/>
<rect x="370" y="5.6" width="7.8" height="7.8" fill="#fff" stroke="#00009c" stroke-width="1.5"/>
<rect x="373.1" y="5.6" width="4.7" height="7.8" fill="#00009c"/>
<text x="405.3" y="16.1" font-size="17.9" font-weight="normal" fill="#000" text-anchor="start">Ta vacancies</text>
</svg>
</body></html>
